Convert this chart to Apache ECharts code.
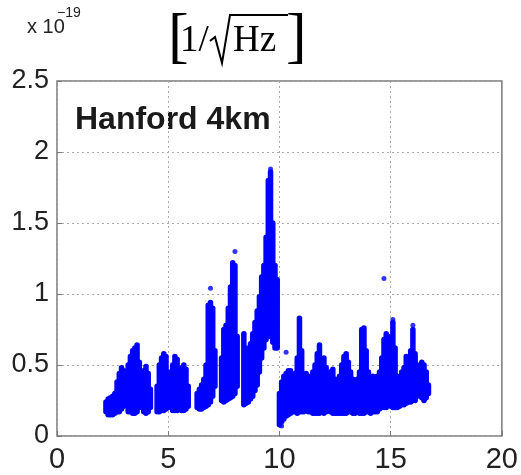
<!DOCTYPE html>
<html><head><meta charset="utf-8">
<script src="https://cdn.jsdelivr.net/npm/echarts@6/dist/echarts.min.js"></script>
<style>html,body{margin:0;padding:0;background:#fff}#c{width:521px;height:475px}</style>
</head><body><div id="c"></div>
<script>
// x values (0.1 steps) and observed band (low / high) of the scatter, in units of 1e-19
const xValues = [2.2,2.3,2.4,2.5,2.6,2.7,2.8,2.9,3.0,3.1,3.2,3.3,3.4,3.5,3.6,3.7,3.8,3.9,4.0,4.1,4.2,
  4.5,4.6,4.7,4.8,4.9,5.0,5.1,5.2,5.3,5.4,5.5,5.6,5.7,5.8,5.9,
  6.3,6.4,6.5,6.6,6.7,6.8,6.9,7.0,7.1,
  7.4,7.5,7.6,7.7,7.8,7.9,8.0,8.1,
  8.4,8.5,8.6,8.7,8.8,8.9,9.0,9.1,9.2,9.3,9.4,9.5,9.6,9.7,9.8,9.9,
  10.0,10.1,10.2,10.3,10.4,10.5,10.6,10.7,10.8,10.9,11.0,11.1,11.2,11.3,11.4,11.5,11.6,11.7,11.8,11.9,
  12.0,12.1,12.2,12.3,12.4,12.5,12.6,12.7,12.8,12.9,13.0,13.1,13.2,13.3,13.4,13.5,13.6,13.7,13.8,13.9,
  14.0,14.1,14.2,14.3,14.4,14.5,14.6,14.7,14.8,14.9,15.0,15.1,15.2,15.3,15.4,15.5,15.6,15.7,15.8,15.9,
  16.0,16.1,16.2,16.4,16.5,16.6,16.7];
const lowValues = [0.17,0.15,0.15,0.15,0.16,0.17,0.17,0.19,0.21,0.22,0.17,0.17,0.16,0.16,0.17,0.20,0.22,0.17,0.16,0.17,0.20,
  0.17,0.17,0.18,0.18,0.19,0.20,0.22,0.18,0.18,0.18,0.19,0.18,0.18,0.19,0.21,
  0.20,0.19,0.19,0.20,0.21,0.22,0.24,0.28,0.35,
  0.25,0.24,0.25,0.26,0.27,0.28,0.30,0.35,
  0.22,0.23,0.24,0.26,0.28,0.32,0.36,0.45,0.55,0.62,0.68,0.72,0.70,0.66,0.62,0.62,
  0.08,0.10,0.12,0.14,0.15,0.16,0.17,0.17,0.16,0.17,0.17,0.17,0.18,0.17,0.17,0.16,0.16,0.16,0.16,0.17,
  0.16,0.17,0.18,0.17,0.16,0.16,0.16,0.16,0.16,0.16,0.16,0.17,0.17,0.16,0.16,0.17,0.16,0.16,0.16,0.17,
  0.17,0.16,0.17,0.17,0.17,0.19,0.20,0.20,0.20,0.22,0.21,0.20,0.20,0.20,0.21,0.22,0.22,0.23,0.24,0.24,
  0.25,0.25,0.28,0.27,0.25,0.27,0.30];
const highValues = [0.24,0.26,0.27,0.28,0.30,0.38,0.44,0.48,0.46,0.40,0.50,0.56,0.60,0.62,0.64,0.52,0.38,0.46,0.49,0.44,0.33,
  0.35,0.50,0.55,0.58,0.56,0.45,0.30,0.50,0.56,0.54,0.40,0.48,0.50,0.47,0.35,
  0.30,0.33,0.36,0.40,0.50,0.92,0.94,0.90,0.60,
  0.55,0.75,0.78,0.90,1.05,1.22,1.20,0.70,
  0.72,0.62,0.60,0.65,0.72,0.80,0.88,0.98,1.12,1.20,1.40,1.80,1.86,1.50,1.20,1.10,
  0.30,0.38,0.42,0.44,0.46,0.46,0.42,0.44,0.55,0.83,0.60,0.42,0.44,0.42,0.38,0.45,0.50,0.58,0.64,0.50,
  0.55,0.48,0.40,0.45,0.47,0.40,0.36,0.42,0.50,0.56,0.58,0.52,0.45,0.40,0.38,0.40,0.45,0.75,0.76,0.60,
  0.45,0.40,0.42,0.40,0.42,0.45,0.55,0.68,0.72,0.70,0.68,0.80,0.62,0.42,0.40,0.45,0.48,0.56,0.52,0.60,
  0.75,0.58,0.50,0.52,0.50,0.45,0.36];
// isolated points
const outlierX = [6.9, 8.0, 9.6, 10.3, 14.7, 10.1, 15.1, 16.0];
const outlierY = [1.04, 1.30, 1.88, 0.59, 1.11, 0.07, 0.82, 0.78];
const xTicks = [0, 5, 10, 15, 20];
const yTicks = [0, 0.5, 1, 1.5, 2, 2.5];

const chart = echarts.init(document.getElementById('c'), null, {renderer: 'canvas'});
const band = xValues.map((x, i) => [x, lowValues[i], highValues[i]]);
const pts = outlierX.map((x, i) => [x, outlierY[i]]);
const BLUE = '#0000ff';
const tickFont = 'Liberation Sans, Arial, sans-serif';
const serif = 'Liberation Serif, Times New Roman, serif';
chart.setOption({
  animation: false,
  backgroundColor: '#fff',
  grid: {left: 57, right: 14, top: 81, bottom: 39, show: true, borderColor: '#7a7a7a', borderWidth: 1.5, backgroundColor: '#fff'},
  xAxis: {
    type: 'value', min: xTicks[0], max: xTicks[xTicks.length - 1], interval: 5,
    axisLine: {show: false},
    axisTick: {show: true, inside: true, length: 5, lineStyle: {color: '#7a7a7a'}},
    splitLine: {show: true, lineStyle: {color: '#aaaaaa', type: [2, 3], width: 1}},
    axisLabel: {color: '#222', fontSize: 29, fontFamily: tickFont, margin: 9}
  },
  yAxis: {
    type: 'value', min: yTicks[0], max: yTicks[yTicks.length - 1], interval: 0.5,
    axisLine: {show: false},
    axisTick: {show: true, inside: true, length: 5, lineStyle: {color: '#7a7a7a'}},
    splitLine: {show: true, lineStyle: {color: '#aaaaaa', type: [2, 3], width: 1}},
    axisLabel: {color: '#222', fontSize: 27, fontFamily: tickFont, margin: 8}
  },
  series: [
    {
      type: 'custom',
      data: band,
      encode: {x: 0, y: [1, 2]},
      renderItem: function (params, api) {
        const x = api.value(0);
        const p1 = api.coord([x, api.value(1)]);
        const p2 = api.coord([x, api.value(2)]);
        return {type: 'line', shape: {x1: p1[0], y1: p1[1], x2: p2[0], y2: p2[1]},
          style: {stroke: BLUE, lineWidth: 5.5, lineCap: 'round'}};
      }
    },
    {type: 'scatter', data: pts, symbolSize: 5, itemStyle: {color: BLUE}}
  ],
  graphic: [
    {type: 'text', left: 75, top: 104, style: {text: 'Hanford 4km', font: 'bold 32px Liberation Sans, Arial, sans-serif', fill: '#1a1a1a'}},
    {type: 'text', x: 27, y: 37, style: {text: 'x 10', font: '20px Liberation Sans, Arial, sans-serif', fill: '#222', verticalAlign: 'bottom'}},
    {type: 'text', x: 57, y: 20, style: {text: '\u221219', font: '14px Liberation Sans, Arial, sans-serif', fill: '#222', verticalAlign: 'bottom'}},
    {type: 'text', x: 168, y: 40, style: {text: '[', font: '62px ' + serif, fill: '#000', verticalAlign: 'middle'}},
    {type: 'text', x: 180, y: 41, style: {text: '1/', font: '37px ' + serif, fill: '#000', verticalAlign: 'middle'}},
    {type: 'polyline', shape: {points: [[210, 41], [215, 37], [222, 63], [230, 15], [288, 15]]}, style: {stroke: '#000', lineWidth: 2, fill: null}},
    {type: 'text', x: 233, y: 41, style: {text: 'Hz', font: '37px ' + serif, fill: '#000', verticalAlign: 'middle'}},
    {type: 'text', x: 286, y: 40, style: {text: ']', font: '62px ' + serif, fill: '#000', verticalAlign: 'middle'}}
  ]
});
</script></body></html>
